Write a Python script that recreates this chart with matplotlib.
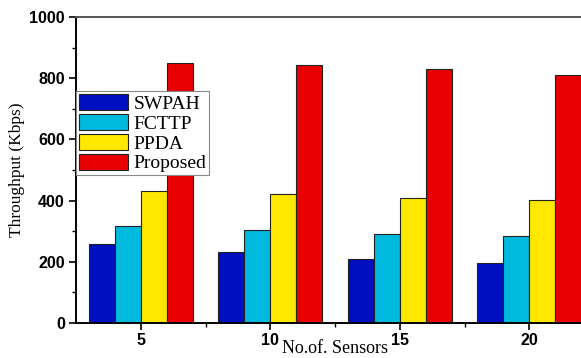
import numpy as np
import matplotlib
matplotlib.use("Agg")
import matplotlib.pyplot as plt
from matplotlib.ticker import MultipleLocator, FixedLocator

# Throughput per method for each sensor count
sensors = [5, 10, 15, 20]
swpah = [258, 232, 210, 197]
fcttp = [317, 303, 291, 284]
ppda = [431, 421, 408, 402]
proposed = [850, 843, 830, 812]

series = [("SWPAH", swpah, "#0010C0"),
          ("FCTTP", fcttp, "#00BADD"),
          ("PPDA", ppda, "#FFE800"),
          ("Proposed", proposed, "#E80000")]

fig = plt.figure(figsize=(5.81, 3.58), dpi=100)
ax = fig.add_axes([76 / 581, 35 / 358, 518 / 581, 306 / 358])

x = np.array(sensors, dtype=float)
offsets = [-1.5, -0.5, 0.5, 1.5]
for (name, vals, col), off in zip(series, offsets):
    ax.bar(x + off, vals, width=1.0, color=col, edgecolor="#222222",
           linewidth=0.8, label=name)

ax.set_xlim(2.5, 22.5)
ax.set_ylim(0, 1000)
ax.set_xticks(sensors)
ax.xaxis.set_minor_locator(FixedLocator([7.5, 12.5, 17.5]))
ax.yaxis.set_major_locator(MultipleLocator(200))
ax.yaxis.set_minor_locator(MultipleLocator(100))

for lbl in ax.get_xticklabels() + ax.get_yticklabels():
    lbl.set_fontfamily("Liberation Sans")
    lbl.set_fontweight("bold")
    lbl.set_fontsize(11.5)

ax.tick_params(which="major", direction="out", length=5, width=1.2, pad=3)
ax.tick_params(axis="x", which="major", pad=2)
ax.tick_params(which="minor", direction="out", length=3, width=1.0)
for sp in ax.spines.values():
    sp.set_linewidth(1.4)
ax.spines["top"].set_color("#555555")

ax.set_ylabel("Throughput (Kbps)", family="Liberation Serif", fontsize=12.5,
              labelpad=3)
ax.set_xlabel("No.of. Sensors", family="Liberation Serif", fontsize=13,
              va="bottom")
ax.xaxis.set_label_coords(0.5, -0.112)

leg = ax.legend(loc="upper left", bbox_to_anchor=(0.0, 0.757),
                prop={"family": "Liberation Serif", "size": 14},
                frameon=True, fancybox=False, edgecolor="#888888",
                framealpha=1.0,
                borderpad=0.15, labelspacing=0.05, handlelength=2.5,
                handleheight=0.9, handletextpad=0.3, borderaxespad=0.0)
leg.get_frame().set_linewidth(0.8)

fig.savefig("out.png", dpi=100)
